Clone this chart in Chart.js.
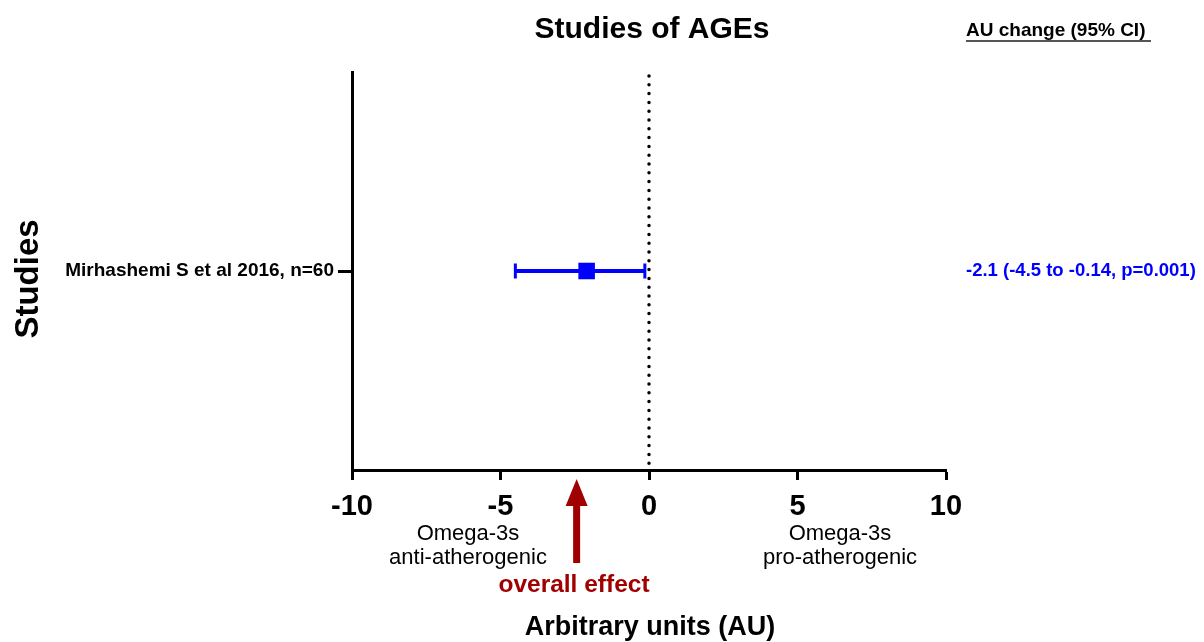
<!DOCTYPE html>
<html>
<head>
<meta charset="utf-8">
<title>Studies of AGEs</title>
<script src="https://cdn.jsdelivr.net/npm/chart.js@4/dist/chart.umd.min.js"></script>
<style>
  body { margin: 0; background: #fff; }
  canvas { display: block; }
</style>
</head>
<body>
<canvas id="forestChart" width="1204" height="642"></canvas>
<script>
// forest plot data
const studies = ['Mirhashemi S et al 2016, n=60'];
const effects = [-2.1];
const lowerCI = [-4.5];
const upperCI = [-0.14];
const pValues = ['0.001'];
const xTicks = [-10, -5, 0, 5, 10];

const FONT = '"Liberation Sans", Arial, Helvetica, sans-serif';
const BLUE = '#0000ff';
const DARK_RED = '#a00000';

const studyRows = studies.map((s, i) => i + 1);

// error bars + caps for each study
const errorBarPlugin = {
  id: 'errorBars',
  afterDatasetsDraw(chart) {
    const { ctx, scales: { x, y } } = chart;
    ctx.save();
    ctx.strokeStyle = BLUE;
    studies.forEach((s, i) => {
      const yy = y.getPixelForValue(studyRows[i]);
      const x1 = x.getPixelForValue(lowerCI[i]);
      const x2 = x.getPixelForValue(upperCI[i]);
      ctx.lineWidth = 4;
      ctx.beginPath();
      ctx.moveTo(x1, yy);
      ctx.lineTo(x2, yy);
      ctx.stroke();
      ctx.lineWidth = 3;
      [x1, x2].forEach((cx) => {
        ctx.beginPath();
        ctx.moveTo(cx, yy - 7.5);
        ctx.lineTo(cx, yy + 7.5);
        ctx.stroke();
      });
    });
    ctx.restore();
  },
};

// dotted no-effect line, titles and annotations
const decorPlugin = {
  id: 'decor',
  beforeDatasetsDraw(chart) {
    const { ctx, scales: { x, y } } = chart;
    const x0 = x.getPixelForValue(0);
    ctx.save();
    ctx.strokeStyle = '#000';
    ctx.lineWidth = 3.5;
    ctx.lineCap = 'round';
    ctx.setLineDash([0, 8.8]);
    ctx.beginPath();
    ctx.moveTo(x0, y.getPixelForValue(2) + 4);
    ctx.lineTo(x0, y.getPixelForValue(0));
    ctx.stroke();
    ctx.restore();
  },
  afterDraw(chart) {
    const { ctx, scales: { x, y } } = chart;
    ctx.save();
    ctx.textBaseline = 'middle';
    ctx.fillStyle = '#000';

    // main title
    ctx.textAlign = 'center';
    ctx.font = 'bold 30px ' + FONT;
    ctx.fillText('Studies of AGEs', 652, 30);

    // right column header, underlined
    ctx.textAlign = 'left';
    ctx.font = 'bold 19px ' + FONT;
    ctx.fillText('AU change (95% CI)', 966, 31);
    ctx.fillStyle = '#555';
    ctx.fillRect(966, 40, 185, 2);

    // per-study result text
    ctx.fillStyle = BLUE;
    ctx.font = 'bold 18.5px ' + FONT;
    studies.forEach((s, i) => {
      const txt = `${effects[i]} (${lowerCI[i]} to ${upperCI[i]}, p=${pValues[i]})`;
      ctx.fillText(txt, 966, y.getPixelForValue(studyRows[i]));
    });

    // axis titles
    ctx.fillStyle = '#000';
    ctx.textAlign = 'center';
    ctx.font = 'bold 27px ' + FONT;
    ctx.fillText('Arbitrary units (AU)', 650, 628);
    ctx.save();
    ctx.translate(29, 279);
    ctx.rotate(-Math.PI / 2);
    ctx.font = 'bold 33px ' + FONT;
    ctx.fillText('Studies', 0, 0);
    ctx.restore();

    // direction captions
    ctx.font = '22px ' + FONT;
    ctx.fillText('Omega-3s', 468, 534);
    ctx.fillText('anti-atherogenic', 468, 558);
    ctx.fillText('Omega-3s', 840, 534);
    ctx.fillText('pro-atherogenic', 840, 558);

    // overall effect arrow
    const ax = x.getPixelForValue(effects[0]) - 10;
    ctx.fillStyle = DARK_RED;
    ctx.fillRect(ax - 3.5, 502, 7, 61);
    ctx.beginPath();
    ctx.moveTo(ax, 479);
    ctx.lineTo(ax + 11, 506);
    ctx.lineTo(ax - 11, 506);
    ctx.closePath();
    ctx.fill();
    ctx.font = 'bold 24.5px ' + FONT;
    ctx.fillText('overall effect', 574, 585);
    ctx.restore();
  },
};

new Chart(document.getElementById('forestChart'), {
  type: 'scatter',
  data: {
    datasets: [
      {
        data: effects.map((e, i) => ({ x: e, y: studyRows[i] })),
        pointStyle: 'rect',
        pointRadius: 11.7,
        backgroundColor: BLUE,
        borderColor: BLUE,
        borderWidth: 0,
      },
    ],
  },
  options: {
    responsive: false,
    animation: false,
    devicePixelRatio: 1,
    layout: { padding: { top: 72, right: 258, left: 0, bottom: 0 } },
    plugins: { legend: { display: false }, tooltip: { enabled: false } },
    scales: {
      x: {
        type: 'linear',
        min: -10,
        max: 10,
        afterFit: (scale) => { scale.height = 172; },
        afterBuildTicks: (scale) => { scale.ticks = xTicks.map((v) => ({ value: v })); },
        border: { display: true, color: '#000', width: 3 },
        grid: { drawOnChartArea: false, drawTicks: true, tickLength: 10, tickColor: '#000', tickWidth: 3 },
        ticks: {
          color: '#000',
          padding: 10,
          maxRotation: 0,
          font: { family: FONT, size: 29, weight: 'bold' },
        },
      },
      y: {
        type: 'linear',
        min: 0,
        max: 2,
        afterFit: (scale) => { scale.width = 352; },
        afterBuildTicks: (scale) => { scale.ticks = studyRows.map((v) => ({ value: v })); },
        border: { display: true, color: '#000', width: 3 },
        grid: { drawOnChartArea: false, drawTicks: true, tickLength: 14, tickColor: '#000', tickWidth: 3 },
        ticks: {
          color: '#000',
          padding: 4,
          font: { family: FONT, size: 19, weight: 'bold' },
          callback: (v) => studies[v - 1] || '',
        },
      },
    },
  },
  plugins: [errorBarPlugin, decorPlugin],
});
</script>
</body>
</html>
